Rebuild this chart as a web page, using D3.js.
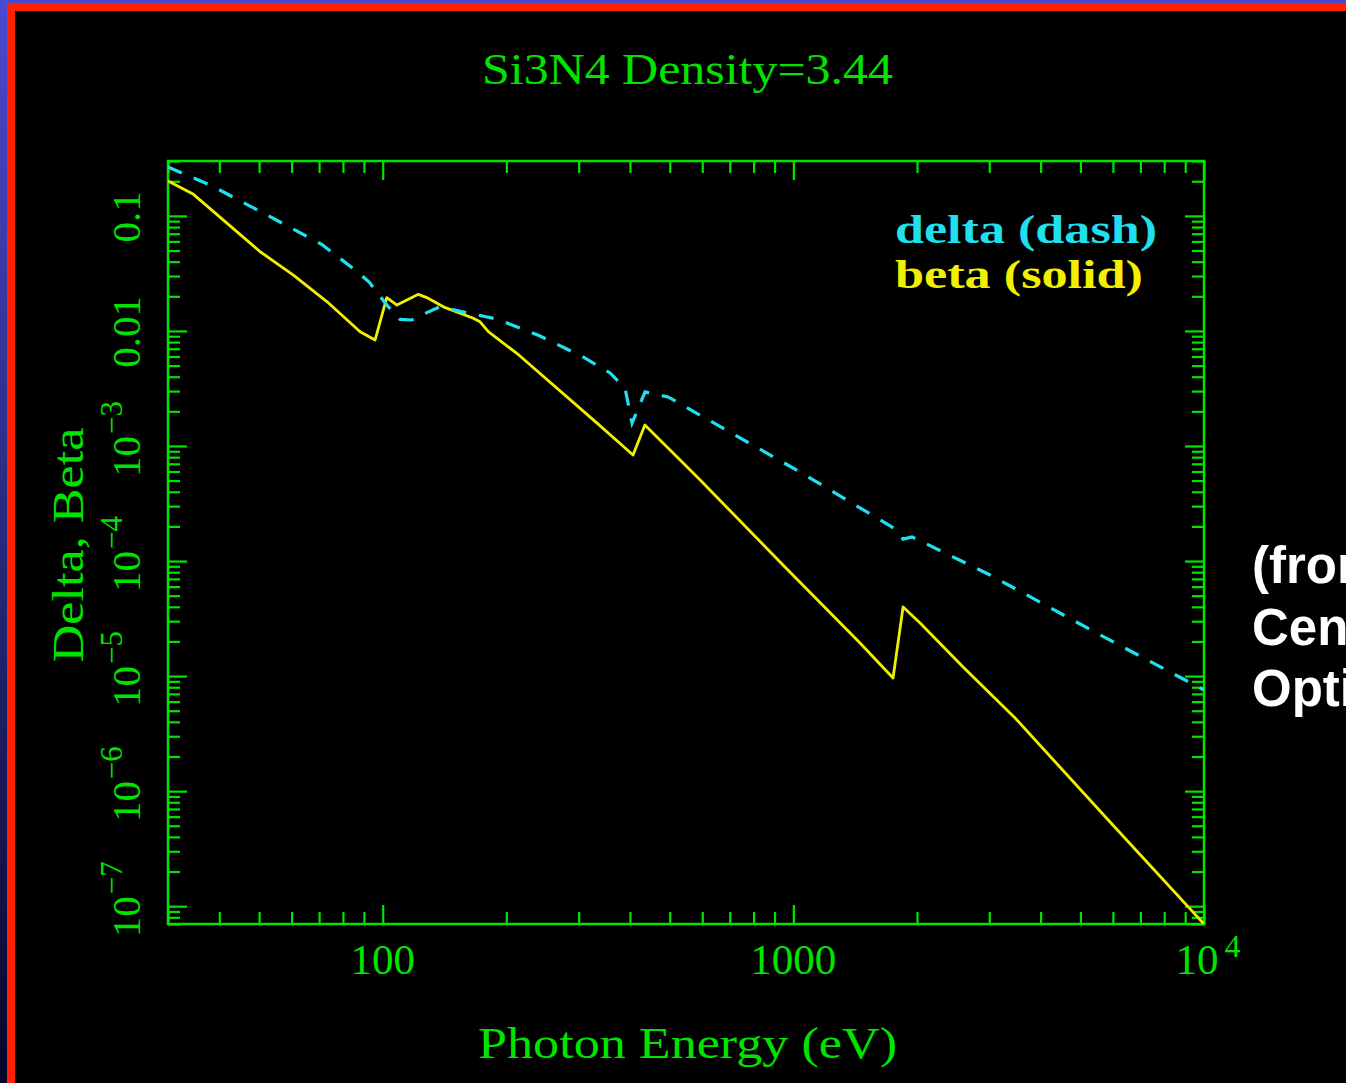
<!DOCTYPE html>
<html>
<head>
<meta charset="utf-8">
<script src="https://cdn.jsdelivr.net/npm/d3@7"></script>
<style>
	html, body { margin: 0; padding: 0; background: #000; overflow: hidden; }
	svg { display: block; }
	.pg { font-family: 'Liberation Serif', 'Times New Roman', serif; fill: #00e400; }
	.note { font-family: 'Liberation Sans', Arial, sans-serif; font-weight: bold; fill: #fff; }
</style>
</head>
<body>
<svg id="chart"></svg>
<script>

// photon energy (eV) and refractive index decrements
var deltaEnergy = [30, 38.3, 52.2, 71.0, 85.6, 92.8, 102.3, 110.2, 117.7, 126.8, 137.9, 161.6, 189.5, 241.6, 307.5, 357.8, 389.1, 404.8, 435.3, 495.2, 1038, 1789, 1850, 1946, 3014, 5584, 10000];
var deltaValues = [0.266, 0.183, 0.102, 0.0566, 0.0339, 0.0265, 0.0168, 0.0126, 0.01245, 0.0142, 0.0162, 0.0143, 0.0127, 0.00904, 0.00594, 0.00431, 0.00319, 0.00158, 0.00295, 0.00267, 5.94e-4, 1.86e-4, 1.55e-4, 1.62e-4, 7.56e-5, 2.28e-5, 7.57e-6];

var betaEnergy = [30, 34.6, 50.3, 60.6, 73.1, 88.1, 95.8, 102.3, 108.3, 122.1, 128.0, 140.5, 166.2, 172.6, 180.8, 212.1, 332.6, 407, 435, 593, 928, 1453, 1749, 1850, 2035, 2590, 3467, 5906, 10000];
var betaValues = [0.201, 0.154, 0.0488, 0.0306, 0.0180, 0.00985, 0.00834, 0.0195, 0.0168, 0.0208, 0.0195, 0.0162, 0.0129, 0.0120, 0.00985, 0.00639, 0.00158, 0.000835, 0.00152, 5.06e-4, 9.81e-5, 1.94e-5, 9.62e-6, 3.99e-5, 2.89e-5, 1.20e-5, 4.32e-6, 5.39e-7, 7.0e-8];

var xTickValues = [100, 1000, 10000];
var xTickLabels = ['100', '1000', '10^4'];
var yTickValues = [0.1, 0.01, 1e-3, 1e-4, 1e-5, 1e-6, 1e-7];
var yTickLabels = ['0.1', '0.01', '10^\u22123', '10^\u22124', '10^\u22125', '10^\u22126', '10^\u22127'];

var legendLabels = ['delta (dash)', 'beta (solid)'];
var noteLines = ['(from', 'Center for X-Ray', 'Optics'];

var chart = (function() {
	
	var svg, plot;
	var xScale, yScale;
	var width = 1346, height = 1083;
	var frame = {l: 168, t: 161, r: 1204, b: 924};
	var green = '#00e400';
	var cyan = '#1ee0ee';
	var yellow = '#f0f000';
	
	return {
		
		init: function() {
			
			let self = this;
			
			svg = d3.select('#chart').attr('width', width).attr('height', height);
			
			self.drawBackground();
			self.setUpScales();
			self.drawAxes();
			self.drawLines();
			self.drawText();
		},
		
		drawBackground: function() {
			
			var grad = svg.append('defs').append('linearGradient')
				.attr('id', 'slideBlue').attr('x1', 0).attr('y1', 0).attr('x2', 0).attr('y2', 1);
			grad.append('stop').attr('offset', '0%').attr('stop-color', '#4a4ad0');
			grad.append('stop').attr('offset', '100%').attr('stop-color', '#06062a');
			
			svg.append('rect').attr('width', width).attr('height', height).attr('fill', 'url(#slideBlue)');
			svg.append('rect').attr('x', 7).attr('y', 3).attr('width', width).attr('height', height).attr('fill', '#ff2200');
			svg.append('rect').attr('x', 15).attr('y', 11).attr('width', width).attr('height', height).attr('fill', '#000');
		},
		
		setUpScales: function() {
			
			xScale = d3.scaleLog().domain([30, 10000]).range([frame.l, frame.r]);
			yScale = d3.scaleLog().domain([7e-8, 0.3]).range([frame.b, frame.t]);
			
			svg.append('defs').append('clipPath').attr('id', 'plotClip')
				.append('rect')
				.attr('x', frame.l).attr('y', frame.t)
				.attr('width', frame.r - frame.l).attr('height', frame.b - frame.t);
		},
		
		// true for 10^n values, these get the long ticks
		isDecade: function(v) {
			var l = Math.log10(v);
			return Math.abs(l - Math.round(l)) < 1e-6;
		},
		
		drawAxes: function() {
			
			let self = this;
			var majorLen = 19, minorLen = 12;
			
			var xTicks = xScale.ticks();
			var yTicks = yScale.ticks();
			var xMajor = xTicks.filter(self.isDecade);
			var xMinor = xTicks.filter(function(d) { return !self.isDecade(d); });
			var yMajor = yTicks.filter(self.isDecade);
			var yMinor = yTicks.filter(function(d) { return !self.isDecade(d); });
			
			var axes = [
				{ax: d3.axisBottom(xScale), t: 'translate(0,' + frame.b + ')', major: xMajor, minor: xMinor},
				{ax: d3.axisTop(xScale), t: 'translate(0,' + frame.t + ')', major: xMajor, minor: xMinor},
				{ax: d3.axisLeft(yScale), t: 'translate(' + frame.l + ',0)', major: yMajor, minor: yMinor},
				{ax: d3.axisRight(yScale), t: 'translate(' + frame.r + ',0)', major: yMajor, minor: yMinor}
			];
			
			axes.forEach(function(a) {
				[[a.major, majorLen], [a.minor, minorLen]].forEach(function(set) {
					var g = svg.append('g').attr('transform', a.t).attr('color', green)
						.call(a.ax.tickValues(set[0]).tickSize(-set[1]).tickSizeOuter(0).tickFormat(''));
					g.select('.domain').remove();
					g.selectAll('line').attr('stroke-width', 2.2);
				});
			});
			
			svg.append('rect')
				.attr('x', frame.l).attr('y', frame.t)
				.attr('width', frame.r - frame.l).attr('height', frame.b - frame.t)
				.attr('fill', 'none').attr('stroke', green).attr('stroke-width', 2.5);
			
			// x tick labels, "^" marks a superscript
			var xl = svg.append('g').attr('class', 'pg');
			xTickValues.forEach(function(v, i) {
				var parts = xTickLabels[i].split('^');
				var t = xl.append('text')
					.attr('x', xScale(v) + (parts.length > 1 ? 4 : 0))
					.attr('y', 974)
					.attr('text-anchor', 'middle')
					.attr('font-size', 43);
				t.append('tspan').text(parts[0]);
				if (parts.length > 1) {
					t.append('tspan').attr('dx', 6).attr('dy', -17).attr('font-size', 32).text(parts[1]);
				}
			});
			
			// y tick labels are rotated like the axis title
			var yl = svg.append('g').attr('class', 'pg');
			yTickValues.forEach(function(v, i) {
				var parts = yTickLabels[i].split('^');
				var t = yl.append('text')
					.attr('transform', 'translate(140,' + (yScale(v) + (parts.length > 1 ? -7 : 1)) + ') rotate(-90)')
					.attr('text-anchor', 'middle')
					.attr('font-size', 41);
				t.append('tspan').text(parts[0]);
				if (parts.length > 1) {
					t.append('tspan').attr('dx', 2).attr('dy', -18).attr('font-size', 31).text(parts[1]);
				}
			});
		},
		
		drawLines: function() {
			
			var delta = deltaEnergy.map(function(e, i) { return {e: e, v: deltaValues[i]}; });
			var beta = betaEnergy.map(function(e, i) { return {e: e, v: betaValues[i]}; });
			
			var line = d3.line()
				.x(function(d) { return xScale(d.e); })
				.y(function(d) { return yScale(d.v); });
			
			plot = svg.append('g').attr('clip-path', 'url(#plotClip)');
			
			plot.append('path').datum(beta)
				.attr('d', line)
				.attr('fill', 'none')
				.attr('stroke', yellow)
				.attr('stroke-width', 2.8)
				.attr('stroke-linejoin', 'round');
			
			plot.append('path').datum(delta)
				.attr('d', line)
				.attr('fill', 'none')
				.attr('stroke', cyan)
				.attr('stroke-width', 3.2)
				.attr('stroke-dasharray', '15,13');
		},
		
		drawText: function() {
			
			svg.append('text').attr('class', 'pg')
				.attr('x', 687.5).attr('y', 84)
				.attr('text-anchor', 'middle')
				.attr('font-size', 44)
				.attr('textLength', 411).attr('lengthAdjust', 'spacingAndGlyphs')
				.text('Si3N4 Density=3.44');
			
			svg.append('text').attr('class', 'pg')
				.attr('x', 687.5).attr('y', 1058)
				.attr('text-anchor', 'middle')
				.attr('font-size', 44)
				.attr('textLength', 419).attr('lengthAdjust', 'spacingAndGlyphs')
				.text('Photon Energy (eV)');
			
			svg.append('text').attr('class', 'pg')
				.attr('transform', 'translate(83,545) rotate(-90)')
				.attr('text-anchor', 'middle')
				.attr('font-size', 44)
				.attr('textLength', 235).attr('lengthAdjust', 'spacingAndGlyphs')
				.text('Delta, Beta');
			
			var legendColors = [cyan, yellow];
			var legendWidths = [262, 248];
			legendLabels.forEach(function(label, i) {
				svg.append('text').attr('class', 'pg')
					.attr('x', 895).attr('y', 243 + i * 45)
					.attr('font-size', 40)
					.attr('font-weight', 'bold')
					.attr('textLength', legendWidths[i]).attr('lengthAdjust', 'spacingAndGlyphs')
					.style('fill', legendColors[i])
					.text(label);
			});
			
			// slide caption, runs off the right edge as in the source slide
			noteLines.forEach(function(line, i) {
				svg.append('text').attr('class', 'note')
					.attr('x', 1252).attr('y', 583 + i * 61.5)
					.attr('font-size', 51)
					.text(line);
			});
		}
	};
})();

chart.init();

</script>
</body>
</html>
